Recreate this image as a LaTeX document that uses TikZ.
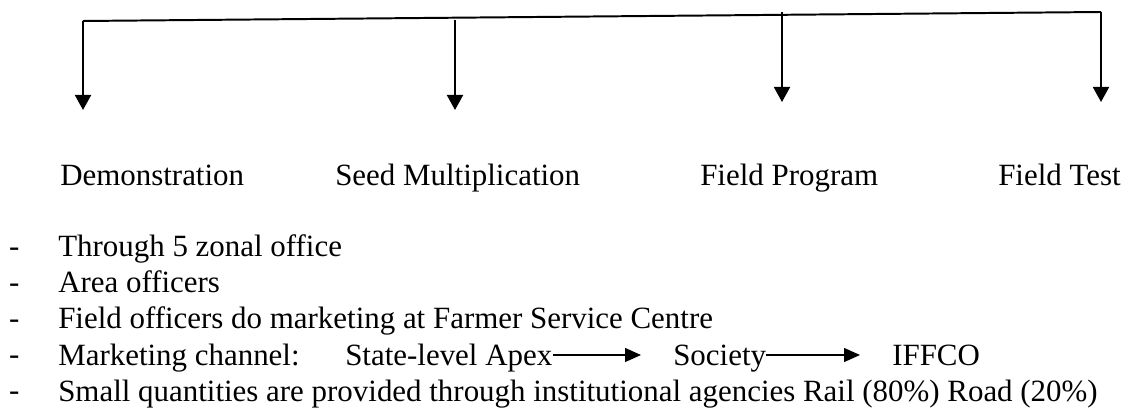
\documentclass[tikz,border=0pt]{standalone}
\usepackage{fontspec}
\setmainfont{Liberation Serif}
\usepackage{tikz}
\usetikzlibrary{arrows.meta,positioning,backgrounds}

\begin{document}
\begin{tikzpicture}
	[every node/.style={inner sep=0pt,anchor=base west,font=\fontsize{22}{26}\selectfont},
	 branch/.style={line width=1.4pt,-{Triangle[length=0.375cm,width=0.4cm]}},
	 chan/.style={line width=0.9pt,-{Triangle[length=0.4cm,width=0.35cm]},shorten >=0.8cm}]

	\useasboundingbox (0,0) rectangle (28.35,-10.2);

	% bar with the four branches
	\coordinate (b1) at (2.075,-0.525);
	\coordinate (b2) at (11.375,-0.5);
	\coordinate (b3) at (19.55,-0.3);
	\coordinate (b4) at (27.525,-0.3);
	\coordinate (t1) at (2.075,-2.75);
	\coordinate (t2) at (11.375,-2.75);
	\coordinate (t3) at (19.55,-2.55);
	\coordinate (t4) at (27.525,-2.55);

	\draw[line width=1.4pt] (b1) -- (b4);
	\foreach \i in {1,2,3,4}
	\draw[branch] (b\i) -- (t\i);

	\node (demo) at (1.5,-4.65) {Demonstration};
	\node (seed) at (8.375,-4.65) {Seed Multiplication};
	\node (prog) at (17.5,-4.65) {Field Program};
	\node (test) at (24.95,-4.65) {Field Test};

	% list
	\foreach \i in {1,2,...,5}
	\node (dash\i) at (0.22,{-6.425-0.9*(\i-1)}) {-};

	\node (zonal) at (1.45,-6.425) {Through 5 zonal office};
	\node (area) at (1.45,-7.325) {Area officers};
	\node (field) at (1.45,-8.225) {Field officers do marketing at Farmer Service Centre};
	\node (mkt) at (1.45,-9.125) {Marketing channel:};
	\node (apex) at (8.625,-9.125) {State-level Apex};
	\node (soc) at (16.825,-9.125) {Society};
	\node (iffco) at (22.3,-9.125) {IFFCO};
	\node (small) at (1.45,-10.025) {Small quantities are provided through institutional agencies Rail (80\%) Road (20\%)};

	\draw[chan] ([yshift=0.25cm]apex.base east) -- ([yshift=0.25cm]soc.base west);
	\draw[chan] ([yshift=0.25cm]soc.base east) -- ([yshift=0.25cm]iffco.base west);
\end{tikzpicture}
\end{document}
